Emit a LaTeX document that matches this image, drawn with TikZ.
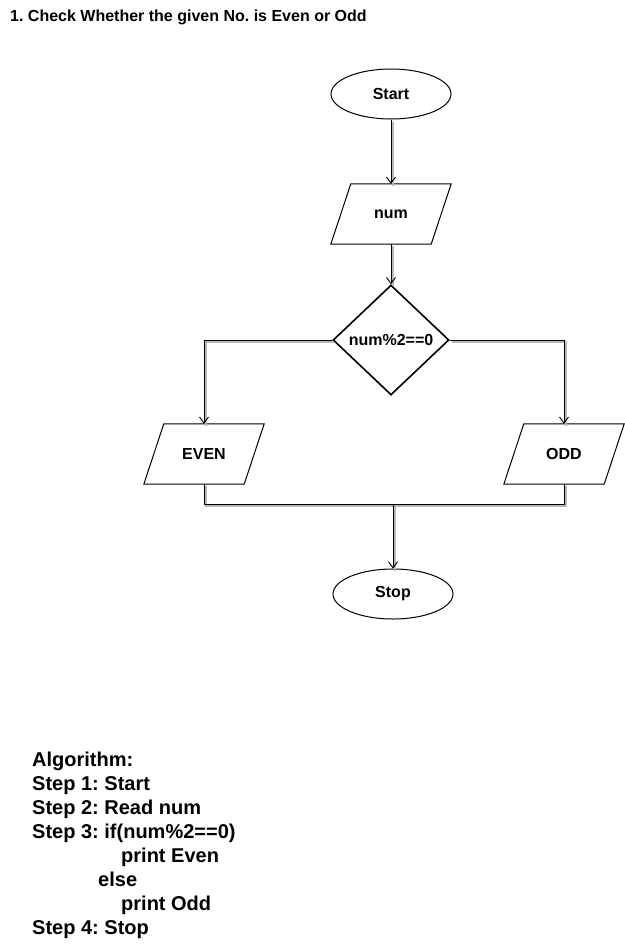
\documentclass[tikz,border=0pt]{standalone}
\usepackage{fontspec}
\setmainfont{Liberation Sans}
\usetikzlibrary{shapes.geometric,arrows.meta}
\frenchspacing
\begin{document}
\begin{tikzpicture}[x=1pt,y=-1pt,
  lbl/.style={font=\fontsize{16}{19}\selectfont\bfseries},
  term/.style={ellipse,draw,line width=1pt,minimum width=120pt,minimum height=50pt,inner sep=0pt,lbl},
  io/.style={rectangle,minimum width=100pt,minimum height=60pt,inner sep=0pt,lbl},
  ioborder/.style={line width=1pt,line join=miter},
  decide/.style={diamond,draw,line width=1.6pt,minimum width=116pt,minimum height=110pt,inner sep=0pt,lbl},
  conn/.style={line width=1pt,preaction={draw=gray!55,line width=1.3pt,-,transform canvas={shift={(2,2)}}}},
  arr/.style={conn,-{Straight Barb[length=6pt,width=9pt,line width=0.9pt]}},
  algo/.style={anchor=base west,inner sep=0pt,font=\fontsize{20}{24}\selectfont\bfseries}
]
\useasboundingbox[fill=white] (0,0) rectangle (624,945);
\node[anchor=base west,inner sep=0pt,font=\fontsize{16}{19}\selectfont\bfseries] (title) at (10,21) {1. Check Whether the given No. is Even or Odd};

\node[term] (start) at (391,94) {Start};
\node[io] (num) at (391,214) {num};
\node[decide] (dec) at (391,340) {num\%2==0};
\node[io] (even) at (204,454) {EVEN};
\node[io] (odd) at (564,454) {ODD};
\node[term] (stop) at (393,594) {Stop};
\coordinate (merge) at (393,504);

\foreach \n in {num,even,odd}{
  \draw[ioborder] ([xshift=-10pt]\n.south west) -- ([xshift=10pt]\n.north west)
    -- ([xshift=10pt]\n.north east) -- ([xshift=-10pt]\n.south east) -- cycle;
}

\draw[arr] (start) -- (num);
\draw[arr] (num) -- (dec);
\draw[arr] (dec.west) -| (even.north);
\draw[arr] (dec.east) -| (odd.north);
\draw[conn] (even.south) |- (merge);
\draw[conn] (odd.south) |- (merge);
\draw[arr] (merge) -- (stop.north);

\node[algo] (a0) at (32,766) {Algorithm:};
\node[algo] (a1) at (32,790) {Step 1: Start};
\node[algo] (a2) at (32,814) {Step 2: Read num};
\node[algo] (a3) at (32,838) {Step 3: if(num\%2==0)};
\node[algo] (a4) at (121,862) {print Even};
\node[algo] (a5) at (98,886) {else};
\node[algo] (a6) at (121,910) {print Odd};
\node[algo] (a7) at (32,934) {Step 4: Stop};
\end{tikzpicture}
\end{document}
